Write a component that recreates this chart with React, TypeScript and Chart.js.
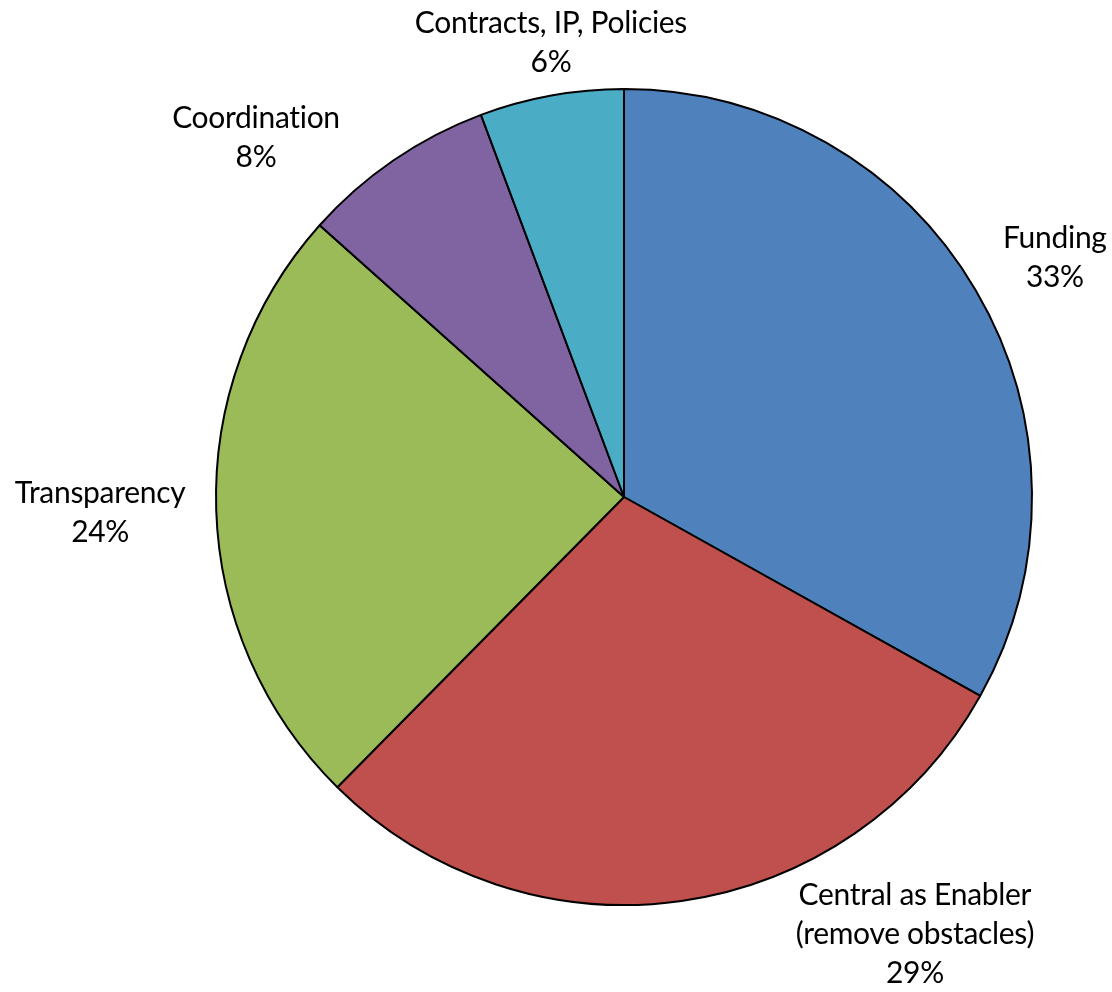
import React, { useEffect, useRef } from "react";
import { Chart, registerables } from "chart.js";

Chart.register(...registerables);

const categories = ["Funding", "Central as Enabler", "Transparency", "Coordination", "Contracts, IP, Policies"];
const labelLines = [["Funding"], ["Central as Enabler", "(remove obstacles)"], ["Transparency"], ["Coordination"], ["Contracts, IP, Policies"]];
const shares = [33.1, 29.3, 24.2, 7.7, 5.7];
const percentLabels = ["33%", "29%", "24%", "8%", "6%"];
const colors = ["#4F81BD", "#C0504D", "#9BBB59", "#8064A2", "#4BACC6"];

// label block centre, relative to pie centre, in units of the radius
const labelOffsets = [
  [1.056, -0.587],
  [0.713, 1.07],
  [-1.284, 0.038],
  [-0.902, -0.881],
  [-0.179, -1.114],
];

const FONT_SIZE = 30;
const LINE_H = 39;
const CAP_H = 20;

const labelPlugin = {
  id: "pieLabels",
  afterDatasetsDraw(chart: any) {
    const meta = chart.getDatasetMeta(0);
    const ctx = chart.ctx;
    ctx.save();
    ctx.font = `${FONT_SIZE}px Lato, "Open Sans", sans-serif`;
    try {
      (ctx as any).letterSpacing = "-0.3px";
    } catch (e) {}
    ctx.fillStyle = "#000";
    ctx.textAlign = "center";
    ctx.textBaseline = "alphabetic";
    meta.data.forEach((arc: any, i: number) => {
      const { x, y, outerRadius } = arc.getProps(["x", "y", "outerRadius"], true);
      const lines = [...labelLines[i], percentLabels[i]];
      const cx = x + labelOffsets[i][0] * outerRadius;
      const cy = y + labelOffsets[i][1] * outerRadius;
      const top = cy - (CAP_H + (lines.length - 1) * LINE_H) / 2;
      lines.forEach((t, j) => {
        ctx.fillText(t, cx, top + CAP_H + j * LINE_H);
      });
    });
    ctx.restore();
  },
};

export default function App() {
  const ref = useRef<HTMLCanvasElement | null>(null);
  useEffect(() => {
    document.body.style.margin = "0";
    const chart = new Chart(ref.current!, {
      type: "pie",
      data: {
        labels: categories,
        datasets: [
          {
            data: shares,
            backgroundColor: colors,
            borderColor: "#000",
            borderWidth: 2,
          },
        ],
      },
      options: {
        animation: false,
        responsive: false,
        radius: 408,
        layout: { padding: { left: 200, right: 64, top: 42, bottom: 40 } },
        plugins: {
          legend: { display: false },
          tooltip: { enabled: false },
        },
      },
      plugins: [labelPlugin],
    });
    return () => chart.destroy();
  }, []);
  return (
    <div style={{ width: 1112, height: 992, background: "#fff" }}>
      <canvas ref={ref} width={1112} height={992} style={{ display: "block" }} />
    </div>
  );
}
